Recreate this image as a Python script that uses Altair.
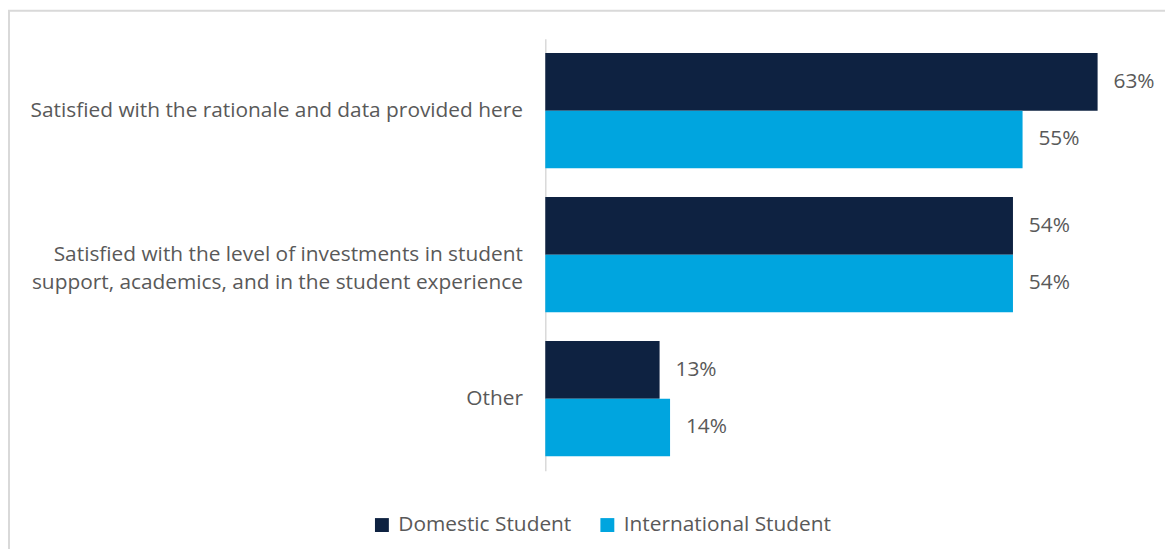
import altair as alt
import pandas as pd

categories = [
    "Satisfied with the rationale and data provided here",
    "Satisfied with the level of investments in student|support, academics, and in the student experience",
    "Other",
]
series = ["Domestic Student", "International Student"]
domestic = [0.633, 0.536, 0.131]
international = [0.547, 0.536, 0.143]
colors = ["#0e2241", "#00a5df"]

rows = []
for c, d, i in zip(categories, domestic, international):
    rows.append({"category": c, "series": series[0], "value": d})
    rows.append({"category": c, "series": series[1], "value": i})
df = pd.DataFrame(rows)

FONT = "Open Sans"
FS = 21
TXT = "#595959"
LEFT = 541
TOP = 29

base = alt.Chart(df).encode(
    y=alt.Y(
        "category:N",
        sort=categories,
        scale=alt.Scale(paddingInner=0.2, paddingOuter=0.1),
        axis=alt.Axis(
            title=None,
            labelExpr="split(datum.label, '|')",
            labelFont=FONT,
            labelFontSize=FS,
            labelColor=TXT,
            labelLineHeight=29,
            labelPadding=23,
            ticks=False,
            tickSize=0,
            domainColor="#d9d9d9",
            domainWidth=1.5,
            labelLimit=600,
        ),
    ),
    yOffset=alt.YOffset("series:N", sort=series, scale=alt.Scale(paddingInner=0, paddingOuter=0)),
    x=alt.X("value:Q", scale=alt.Scale(domain=[0, 0.7]), axis=None),
)

bars = base.mark_bar().encode(
    color=alt.Color(
        "series:N",
        sort=series,
        scale=alt.Scale(domain=series, range=colors),
        legend=alt.Legend(
            title=None,
            orient="none",
            direction="horizontal",
            legendX=-175,
            legendY=479,
            symbolType="square",
            symbolSize=196,
            symbolStrokeWidth=0,
            labelFont=FONT,
            labelFontSize=FS,
            labelColor=TXT,
            labelOffset=6,
            labelLimit=400,
            columnPadding=25,
            padding=0,
        ),
    )
)

text = base.mark_text(align="left", dx=16, font=FONT, fontSize=FS, color=TXT).encode(
    text=alt.Text("value:Q", format=".0%")
)

frame = alt.Chart(pd.DataFrame({"a": [0]})).mark_rect(
    fill="transparent", stroke="#d9d9d9", strokeWidth=2
).encode(
    x=alt.value(1 - LEFT), x2=alt.value(700), y=alt.value(1 - TOP), y2=alt.value(600)
)

chart = alt.layer(frame, bars, text).properties(
    width=615,
    height=435,
    autosize=alt.AutoSizeParams(type="none"),
    padding={"left": LEFT, "top": TOP, "right": 1165 - LEFT - 615, "bottom": 541 - TOP - 435},
).configure(background="white").configure_view(stroke=None)

chart.save("out.html", embed_options={"renderer": "svg", "actions": False})
